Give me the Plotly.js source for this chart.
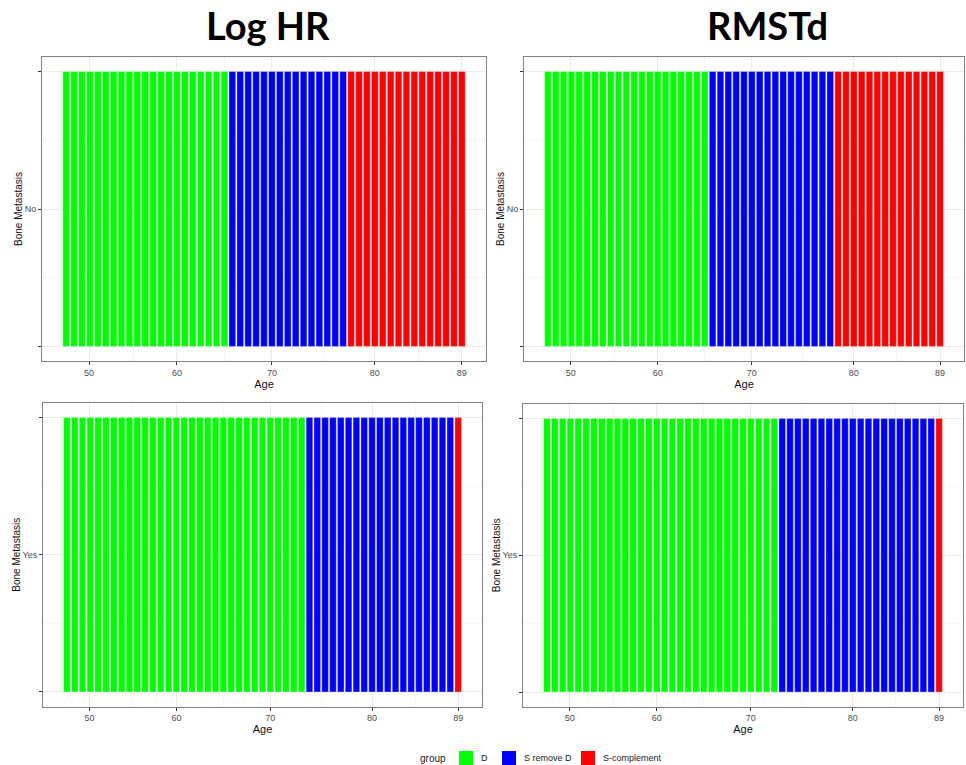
<!DOCTYPE html>
<html>
<head>
<meta charset="utf-8">
<script src="https://cdn.plot.ly/plotly-3.0.1.min.js"></script>
<style>html,body{margin:0;padding:0;background:#fff;}#chart{width:966px;height:765px;}</style>
</head>
<body>
<div id="chart"></div>
<script>
// ---- data ----
const groupNames = ['D', 'S remove D', 'S-complement'];
const groupColors = ['#00FF00', '#0000FF', '#FF0000'];
const legendTitle = 'group';
// number of consecutive age bars (in age order) belonging to each group
const logHR_No_counts  = [21, 15, 15];
const rmstd_No_counts  = [21, 16, 14];
const logHR_Yes_counts = [31, 19, 1];
const rmstd_Yes_counts = [30, 20, 1];
// x tick labels (ages) and the bar index each one sits on
const ageTickLabels = ['50', '60', '70', '80', '89'];
const ageTickIndex  = [2.9, 14, 26, 39, 50];
const panelTitles = ['Log HR', 'RMSTd'];
const yCategories = ['No', 'Yes'];

// ---- build ----
const traces = [];
function addPanel(counts, xa, ya) {
  let start = 0;
  counts.forEach((n, g) => {
    const xs = [], ys = [];
    for (let i = 0; i < n; i++) { xs.push(start + i); ys.push(1); }
    start += n;
    traces.push({
      type: 'bar', x: xs, y: ys, base: 0, xaxis: xa, yaxis: ya, name: groupNames[g],
      marker: {color: groupColors[g], line: {color: 'rgba(255,255,255,0.6)', width: 0.5}},
      showlegend: false, hoverinfo: 'skip'
    });
  });
}
addPanel(logHR_No_counts, 'x', 'y');
addPanel(rmstd_No_counts, 'x2', 'y2');
addPanel(logHR_Yes_counts, 'x3', 'y3');
addPanel(rmstd_Yes_counts, 'x4', 'y4');

const W = 966, H = 765;
const fx = (a, b) => [a / W, b / W];
const fy = (top, bot) => [1 - bot / H, 1 - top / H];
const minorX = ageTickIndex.slice(0, -1).map((v, i) => (v + ageTickIndex[i + 1]) / 2);
const FONT = 'Liberation Sans, Arial, sans-serif';

function xAxis(domain, anchor) {
  return {
    domain: domain, anchor: anchor, range: [-3.05, 53.05],
    tickmode: 'array', tickvals: ageTickIndex, ticktext: ageTickLabels,
    ticks: 'outside', ticklen: 3, tickcolor: '#333', tickwidth: 1,
    tickfont: {family: FONT, size: 9, color: '#4d4d4d'},
    showgrid: true, gridcolor: '#ebebeb', gridwidth: 1,
    minor: {tickmode: 'array', tickvals: minorX, showgrid: true, gridcolor: '#f2f2f2', gridwidth: 0.6, ticks: ''},
    showline: true, mirror: true, linecolor: '#808080', linewidth: 1, zeroline: false,
    title: {text: 'Age', font: {family: FONT, size: 11, color: '#111'}, standoff: 2},
    fixedrange: true
  };
}
function yAxis(domain, anchor, cat) {
  return {
    domain: domain, anchor: anchor, range: [-0.053, 1.053],
    tickmode: 'array', tickvals: [0, 0.5, 1], ticktext: ['', cat, ''],
    ticks: 'outside', ticklen: 3, tickcolor: '#333', tickwidth: 1,
    tickfont: {family: FONT, size: 9, color: '#4d4d4d'},
    showgrid: true, gridcolor: '#ebebeb', gridwidth: 1,
    minor: {tickmode: 'array', tickvals: [0.25, 0.75], showgrid: true, gridcolor: '#f2f2f2', gridwidth: 0.6, ticks: ''},
    showline: true, mirror: true, linecolor: '#808080', linewidth: 1, zeroline: false,
    title: {text: 'Bone Metastasis', font: {family: FONT, size: 10, color: '#111'}, standoff: 0},
    fixedrange: true
  };
}

// manual legend (group title + colour keys)
const legendY = 758;
const legendTitleX = 418;
const keyX = [459, 502, 581];
const shapes = [];
const annotations = [];
annotations.push({text: legendTitle, x: legendTitleX / W, y: 1 - legendY / H, xref: 'paper', yref: 'paper',
  showarrow: false, xanchor: 'left', yanchor: 'middle', font: {family: FONT, size: 10, color: '#222'}});
groupNames.forEach((name, g) => {
  shapes.push({type: 'rect', xref: 'paper', yref: 'paper',
    x0: keyX[g] / W, x1: (keyX[g] + 14) / W, y0: 1 - (legendY + 7) / H, y1: 1 - (legendY - 7) / H,
    fillcolor: groupColors[g], line: {width: 0}});
  annotations.push({text: name, x: (keyX[g] + 20) / W, y: 1 - legendY / H, xref: 'paper', yref: 'paper',
    showarrow: false, xanchor: 'left', yanchor: 'middle', font: {family: FONT, size: 9, color: '#222'}});
});
const titleX = [268, 767];
panelTitles.forEach((t, i) => {
  annotations.push({text: '<b>' + t + '</b>', x: titleX[i] / W, y: 1 - 25 / H, xref: 'paper', yref: 'paper',
    showarrow: false, xanchor: 'center', yanchor: 'middle', font: {family: 'Lato, sans-serif', size: 38, color: '#000'}});
});

const layout = {
  width: W, height: H,
  margin: {l: 0, r: 0, t: 0, b: 0},
  paper_bgcolor: '#fff', plot_bgcolor: '#fff',
  barmode: 'overlay', bargap: 0.16,
  showlegend: false,
  xaxis:  xAxis(fx(42, 486), 'y'),
  yaxis:  yAxis(fy(57, 361), 'x', yCategories[0]),
  xaxis2: xAxis(fx(524, 964), 'y2'),
  yaxis2: yAxis(fy(57, 361), 'x2', yCategories[0]),
  xaxis3: xAxis(fx(43, 482), 'y3'),
  yaxis3: yAxis(fy(403, 706.5), 'x3', yCategories[1]),
  xaxis4: xAxis(fx(523, 963), 'y4'),
  yaxis4: yAxis(fy(404, 706.5), 'x4', yCategories[1]),
  shapes: shapes,
  annotations: annotations
};

Plotly.newPlot('chart', traces, layout, {displayModeBar: false, staticPlot: true});
</script>
</body>
</html>
